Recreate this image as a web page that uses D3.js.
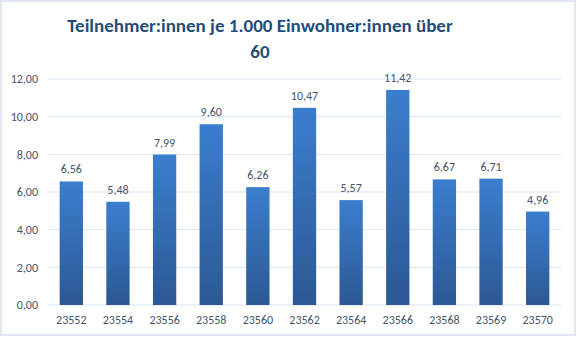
<!DOCTYPE html>
<html>
<head>
<meta charset="utf-8">
<script src="https://cdn.jsdelivr.net/npm/d3@7"></script>
<style>
  html, body { margin: 0; padding: 0; background: #fff; }
  svg { display: block; }
</style>
</head>
<body>
<svg id="chart" width="577" height="337"></svg>
<script>
// Postal codes and participants per 1,000 residents aged over 60
const categories = ["23552", "23554", "23556", "23558", "23560", "23562", "23564", "23566", "23568", "23569", "23570"];
const values = [6.56, 5.48, 7.99, 9.60, 6.26, 10.47, 5.57, 11.42, 6.67, 6.71, 4.96];
const yTicks = [0, 2, 4, 6, 8, 10, 12];
const titleLines = ["Teilnehmer:innen je 1.000 Einwohner:innen über", "60"];

const fmt = v => v.toFixed(2).replace(".", ",");
const font = "Carlito, 'Open Sans', 'Noto Sans', sans-serif";

const svg = d3.select("#chart");
const W = 577, H = 337;
const margin = { left: 48, right: 16, top: 79, bottom: 32 };

// Outer frame
svg.append("rect")
  .attr("x", 1).attr("y", 1).attr("width", W - 3).attr("height", H - 3)
  .attr("fill", "#fff").attr("stroke", "#d5e1f0").attr("stroke-width", 1.5);

// Bar gradient
const defs = svg.append("defs");
const grad = defs.append("linearGradient").attr("id", "barGrad")
  .attr("x1", 0).attr("y1", 0).attr("x2", 0).attr("y2", 1);
grad.append("stop").attr("offset", "0%").attr("stop-color", "#3b7ece");
grad.append("stop").attr("offset", "100%").attr("stop-color", "#2c5893");

const x = d3.scaleBand().domain(categories)
  .range([margin.left, W - margin.right]).paddingInner(0.5).paddingOuter(0.25);
const y = d3.scaleLinear().domain([0, 12]).range([H - margin.bottom, margin.top]);

// Gridlines
svg.append("g").selectAll("line").data(yTicks).join("line")
  .attr("x1", margin.left).attr("x2", W - margin.right)
  .attr("y1", d => y(d)).attr("y2", d => y(d))
  .attr("stroke", "#d9e3f0").attr("stroke-width", 1);

// Y axis labels
const yAxis = d3.axisLeft(y).tickValues(yTicks).tickFormat(fmt).tickSize(0).tickPadding(10);
svg.append("g").attr("transform", `translate(${margin.left},0)`).call(yAxis)
  .call(g => g.select(".domain").remove())
  .selectAll("text")
  .attr("font-family", font).attr("font-size", 12).attr("fill", "#44546a");

// X axis labels
const xAxis = d3.axisBottom(x).tickSize(0).tickPadding(10);
svg.append("g").attr("transform", `translate(0,${y(0)})`).call(xAxis)
  .call(g => g.select(".domain").remove())
  .selectAll("text")
  .attr("font-family", font).attr("font-size", 12).attr("fill", "#44546a");

// Bars
svg.append("g").selectAll("rect").data(values).join("rect")
  .attr("x", (d, i) => x(categories[i]))
  .attr("y", d => y(d))
  .attr("width", x.bandwidth())
  .attr("height", d => y(0) - y(d))
  .attr("fill", "url(#barGrad)");

// Value labels
svg.append("g").selectAll("text").data(values).join("text")
  .attr("x", (d, i) => x(categories[i]) + x.bandwidth() / 2)
  .attr("y", d => y(d) - 8)
  .attr("text-anchor", "middle")
  .attr("font-family", font).attr("font-size", 12).attr("fill", "#44546a")
  .text(fmt);

// Title
svg.append("g").selectAll("text").data(titleLines).join("text")
  .attr("x", 260).attr("y", (d, i) => 32 + i * 26)
  .attr("text-anchor", "middle")
  .attr("font-family", font).attr("font-weight", "bold").attr("font-size", 19)
  .attr("fill", "#1f4e79")
  .text(d => d);
</script>
</body>
</html>
